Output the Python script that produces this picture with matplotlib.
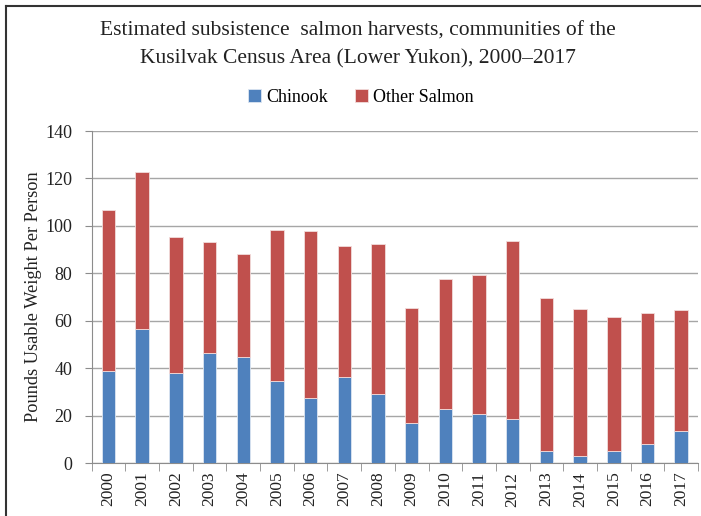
import matplotlib
matplotlib.use("Agg")
import matplotlib.pyplot as plt
import numpy as np

# harvest data, pounds usable weight per person
years = [str(y) for y in range(2000, 2018)]
chinook = [39.0, 56.7, 37.9, 46.5, 44.9, 34.6, 27.5, 36.3, 29.3,
           17.1, 22.9, 20.7, 18.5, 5.3, 2.9, 5.1, 8.1, 13.7]
total = [106.7, 122.7, 95.3, 93.3, 88.1, 98.2, 97.8, 91.6, 92.3,
         65.5, 77.8, 79.5, 93.6, 69.6, 64.9, 61.6, 63.2, 64.5]
other = [t - c for t, c in zip(total, chinook)]

plt.rcParams["font.family"] = ["Liberation Serif", "DejaVu Serif"]

fig = plt.figure(figsize=(7.01, 5.16), dpi=100)
ax = fig.add_axes([0.1308, 0.1021, 0.8649, 0.644])

x = np.arange(len(years))
ax.bar(x, chinook, width=0.4, color="#4F81BD", edgecolor="#DCE6F2",
       linewidth=0.6, label="Chinook", zorder=3)
ax.bar(x, other, width=0.4, bottom=chinook, color="#C0504D",
       edgecolor="#F2DCDB", linewidth=0.6, label="Other Salmon", zorder=3)

ax.set_xlim(-0.5, len(years) - 0.5)
ax.set_ylim(0, 140)
ax.set_yticks(range(0, 141, 20))
ax.tick_params(axis="y", length=5, color="#8C8C8C", labelsize=13,
               labelcolor="#222222", pad=9)
ax.yaxis.grid(True, color="#A6A6A6", linewidth=1.0, zorder=0)

# year labels centred under bars, tick marks between categories
ax.set_xticks(x)
ax.set_xticklabels(years, rotation=90, fontsize=12.5, color="#222222")
ax.tick_params(axis="x", length=0, pad=6)
ax.set_xticks(np.arange(-0.5, len(years), 1), minor=True)
ax.tick_params(axis="x", which="minor", length=6, color="#8C8C8C")

for side in ["top", "right"]:
    ax.spines[side].set_visible(False)
ax.spines["left"].set_color("#8C8C8C")
ax.spines["bottom"].set_color("#8C8C8C")

ax.set_ylabel("Pounds Usable Weight Per Person", fontsize=13.2, color="#222222",
              labelpad=2)

fig.text(0.511, 0.940, "Estimated subsistence  salmon harvests, communities of the",
         ha="center", va="center", fontsize=15.5, color="#222222")
fig.text(0.511, 0.886, "Kusilvak Census Area (Lower Yukon), 2000\u20132017",
         ha="center", va="center", fontsize=15.5, color="#222222")

fig.legend(loc="center", bbox_to_anchor=(0.515, 0.812), ncol=2, frameon=False,
           fontsize=13, handlelength=0.7, handleheight=0.7, handletextpad=0.3,
           columnspacing=1.5)

# frame lines along the left and top edges
fig.add_artist(plt.Line2D([0.008, 0.008], [0, 0.989], transform=fig.transFigure,
                          color="#333333", linewidth=1.5))
fig.add_artist(plt.Line2D([0.008, 1.0], [0.989, 0.989], transform=fig.transFigure,
                          color="#333333", linewidth=1.5))

fig.savefig("out.png", dpi=100)
